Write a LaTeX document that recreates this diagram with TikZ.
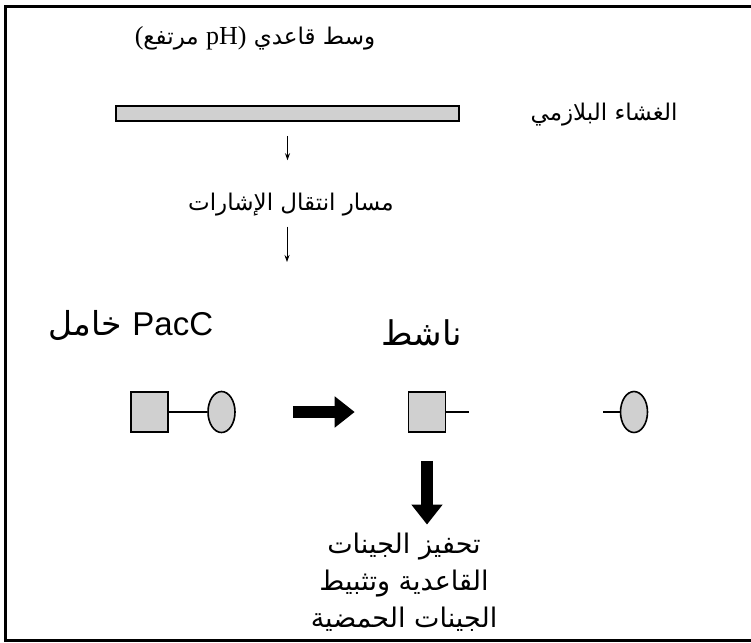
\documentclass[tikz,border=0pt]{standalone}
\usepackage{fontspec}
\setmainfont{Liberation Serif}
\newfontfamily\arabicfont[Script=Arabic]{DejaVu Sans}
\newfontfamily\latinsans{Liberation Sans}
\TeXXeTstate=1
\usetikzlibrary{arrows.meta, positioning, shapes.geometric}
\definecolor{pacgray}{RGB}{208,208,208}
\newcommand{\phfont}{\rmfamily\fontsize{26}{28}\selectfont}

\begin{document}
\begin{tikzpicture}[x=1pt, y=-1pt,
      lbl/.style={inner sep=0pt, font=\arabicfont\fontsize{23}{26}\selectfont},
      big/.style={inner sep=0pt, font=\arabicfont\fontsize{27}{37}\selectfont, align=center},
      part/.style={draw, line width=1.6pt, fill=pacgray, inner sep=0pt},
      thinarr/.style={-{Stealth[length=7pt, width=5pt]}, line width=0.8pt},
      fatarr/.style={-{Triangle[length=20pt, width=30pt]}, line width=12pt}]
    \useasboundingbox (0,0) rectangle (751,642);
    % frame
    \draw[line width=3pt] (751,6.5) -- (5.5,6.5) -- (5.5,640) -- (751,640);
    % membrane and signal
    \node[lbl] (medium) at (255,38) {\beginR وسط قاعدي \beginL{\phfont pH)}\endL{} مرتفع\beginL{\phfont(}\endL\endR};
    \node[part, minimum width=343pt, minimum height=15pt] (membrane) at (287.5,113.5) {};
    \node[lbl] (memlbl) at (604,115) {\beginR الغشاء البلازمي\endR};
    \node[lbl] (signal) at (291,205) {\beginR مسار انتقال الإشارات\endR};
    \coordinate (sigend) at (287,262);
    \draw[thinarr, shorten <=14pt, shorten >=33pt] (membrane.south) -- (membrane.south |- signal.north);
    \draw[thinarr, shorten <=10pt] (signal.south -| sigend) -- (sigend);
    % PacC forms
    \node[inner sep=0pt, font=\arabicfont\fontsize{33}{36}\selectfont] (inactive) at (131,325) {\beginR\beginL{\latinsans PacC}\endL{} خامل\endR};
    \node[inner sep=0pt, font=\arabicfont\fontsize{34}{36}\selectfont] (active) at (422,333) {\beginR ناشط\endR};
    \node[part, minimum width=37pt, minimum height=40pt] (sqa) at (149.5,412) {};
    \node[part, ellipse, minimum width=27pt, minimum height=41pt] (ela) at (221.5,412) {};
    \node[part, minimum width=37pt, minimum height=40pt] (sqb) at (427,412) {};
    \node[part, ellipse, minimum width=27pt, minimum height=41pt] (elc) at (634,412) {};
    \coordinate (stubb) at (469,412);
    \coordinate (stubc) at (603,412);
    \draw[line width=1.2pt] (sqa) -- (ela);
    \draw[line width=1.2pt] (sqb) -- (stubb);
    \draw[line width=1.2pt] (stubc) -- (elc);
    \draw[fatarr, shorten <=57pt, shorten >=53pt] (ela) -- (sqb);
    % genes
    \node[big] (genes) at (404,582) {\beginR تحفيز الجينات\endR\\\beginR القاعدية وتثبيط\endR\\\beginR الجينات الحمضية\endR};
    \draw[fatarr, shorten <=28pt, shorten >=8pt] (sqb) -- (sqb |- genes.north);
\end{tikzpicture}
\end{document}
